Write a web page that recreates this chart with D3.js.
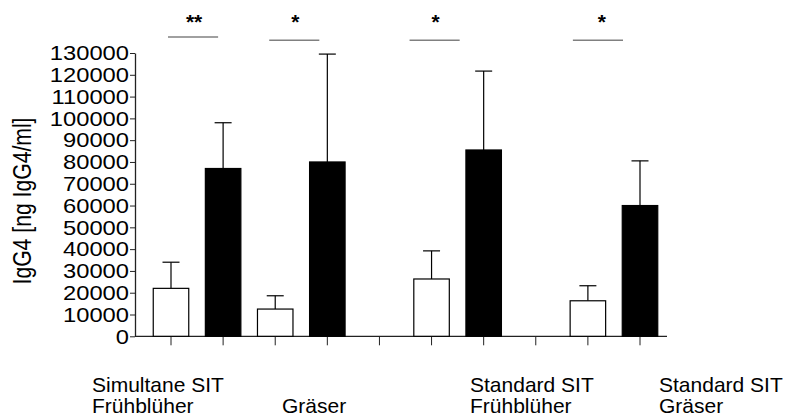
<!doctype html>
<html>
  <head>
    <meta charset="utf-8">
    <title>IgG4 vor und nach SIT</title>
    <style>
    body {
      margin: 0;
      background-color: #ffffff;
      font-family: 'Liberation Sans', Arial, sans-serif;
    }
    </style>
    <script src="https://cdnjs.cloudflare.com/ajax/libs/d3/7.8.5/d3.min.js"></script>
  </head>
  <body>
    <div id="chart"></div>

    <script>
      // data (ng IgG4/ml)
      const groups = ['Simultane SIT Frühblüher', 'Simultane SIT Gräser', 'Standard SIT Frühblüher', 'Standard SIT Gräser'];
      const before = [22000, 12500, 26300, 16300];
      const beforeSD = [12000, 6100, 12900, 6900];
      const after = [77000, 80000, 85500, 60000];
      const afterSD = [21000, 49500, 36200, 20500];
      const stars = ['**', '*', '*', '*'];
      const yTicks = d3.range(0, 130001, 10000);

      // x slots, empty ones are gaps between the groups
      const slots = ['g0a', 'g0b', 'g1a', 'g1b', 'gap1', 'g2a', 'g2b', 'gap2', 'g3a', 'g3b'];
      const labelLines = [['Simultane SIT', 'Frühblüher'], ['', 'Gräser'], ['Standard SIT', 'Frühblüher'], ['Standard SIT', 'Gräser']];

      const width = 786, height = 417;
      const svg = d3.select('#chart').append('svg')
        .attr('width', width)
        .attr('height', height);

      const y = d3.scaleLinear().domain([0, 130000]).range([336.3, 53]);
      const x = d3.scalePoint().domain(slots).range([171, 640]);
      const barW = 35.5;

      // y axis
      const yAxis = svg.append('g')
        .attr('transform', 'translate(135,0)')
        .call(d3.axisLeft(y).tickValues(yTicks).tickSize(5).tickSizeOuter(0).tickFormat(d3.format('d')));
      yAxis.select('.domain').attr('stroke', '#222').attr('stroke-width', 1.3);
      yAxis.selectAll('.tick line').attr('stroke', '#222');
      yAxis.selectAll('.tick text')
        .attr('x', 0)
        .attr('transform', 'translate(-6,0) scale(1.13,1)')
        .style('font-size', '21px')
        .style('font-family', "'Liberation Sans', Arial, sans-serif")
        .attr('fill', '#000');

      // x axis line + ticks
      const xAxis = svg.append('g')
        .attr('transform', 'translate(0,' + y(0) + ')');
      xAxis.append('line')
        .attr('x1', 135).attr('x2', 667)
        .attr('stroke', '#222').attr('stroke-width', 1.3);
      xAxis.selectAll('.xt').data(slots).join('line')
        .attr('class', 'xt')
        .attr('x1', d => x(d)).attr('x2', d => x(d))
        .attr('y1', 0).attr('y2', 9)
        .attr('stroke', '#222');

      // bars
      const bars = [];
      groups.forEach((g, i) => {
        bars.push({ slot: 'g' + i + 'a', v: before[i], sd: beforeSD[i], fill: '#fff' });
        bars.push({ slot: 'g' + i + 'b', v: after[i], sd: afterSD[i], fill: '#000' });
      });

      // error bars (upper only)
      svg.selectAll('.err').data(bars).join('line')
        .attr('class', 'err')
        .attr('x1', d => x(d.slot)).attr('x2', d => x(d.slot))
        .attr('y1', d => y(d.v)).attr('y2', d => y(d.v + d.sd))
        .attr('stroke', '#000').attr('stroke-width', 1.2);
      svg.selectAll('.cap').data(bars).join('line')
        .attr('class', 'cap')
        .attr('x1', d => x(d.slot) - 8.5).attr('x2', d => x(d.slot) + 8.5)
        .attr('y1', d => y(d.v + d.sd)).attr('y2', d => y(d.v + d.sd))
        .attr('stroke', '#000').attr('stroke-width', 1.2);

      svg.selectAll('.bar').data(bars).join('rect')
        .attr('class', 'bar')
        .attr('x', d => x(d.slot) - barW / 2)
        .attr('y', d => y(d.v))
        .attr('width', barW)
        .attr('height', d => y(0) - y(d.v))
        .attr('fill', d => d.fill)
        .attr('stroke', '#000')
        .attr('stroke-width', 1.2);

      // significance markers
      const sigShift = [-3, -6, -22, -15];
      const sigY = [137300, 135800, 135800, 135800];
      const sig = svg.selectAll('.sig').data(stars).join('g').attr('class', 'sig');
      sig.append('line')
        .attr('x1', (d, i) => x('g' + i + 'a') + sigShift[i])
        .attr('x2', (d, i) => x('g' + i + 'b') + sigShift[i] - 2)
        .attr('y1', (d, i) => y(sigY[i])).attr('y2', (d, i) => y(sigY[i]))
        .attr('stroke', '#808080').attr('stroke-width', 1.5);
      sig.append('text')
        .attr('x', (d, i) => (x('g' + i + 'a') + x('g' + i + 'b')) / 2 + sigShift[i] + (i == 3 ? 3 : 0))
        .attr('y', 29)
        .attr('text-anchor', 'middle')
        .style('font-size', '21px')
        .style('font-weight', 'bold')
        .text(d => d);

      // group labels
      const labelX = [92, 282, 470, 659];
      svg.selectAll('.glabel').data(labelLines).join('text')
        .attr('class', 'glabel')
        .attr('x', (d, i) => labelX[i])
        .attr('y', 392)
        .style('font-size', '21px')
        .selectAll('tspan').data(d => d).join('tspan')
        .attr('x', function() { return this.parentNode.getAttribute('x'); })
        .attr('dy', (d, j) => j == 0 ? 0 : 21)
        .text(d => d);

      // y title
      svg.append('text')
        .attr('transform', 'translate(31,201) rotate(-90)')
        .attr('text-anchor', 'middle')
        .attr('textLength', 167)
        .attr('lengthAdjust', 'spacingAndGlyphs')
        .style('font-size', '25px')
        .text('IgG4 [ng IgG4/ml]');
    </script>
  </body>
</html>
